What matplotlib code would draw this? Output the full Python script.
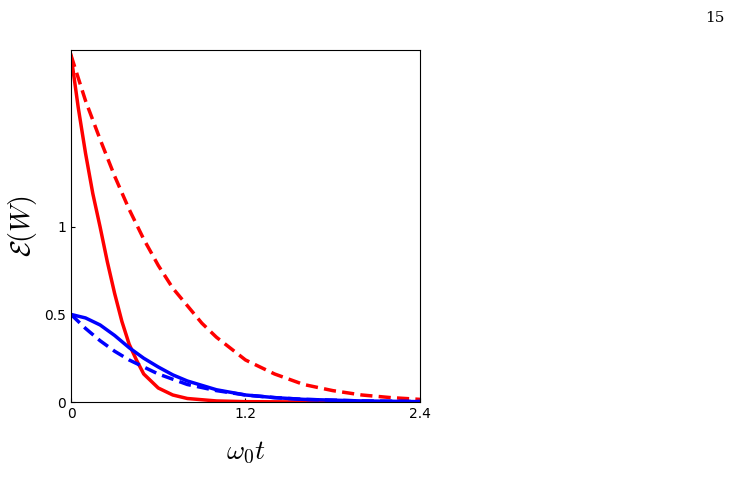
import matplotlib
matplotlib.use("Agg")
import matplotlib.pyplot as plt

plt.rcParams["mathtext.fontset"] = "cm"

t_red = [0, 0.05, 0.1, 0.15, 0.2, 0.25, 0.3, 0.35, 0.4, 0.45, 0.5, 0.6, 0.7, 0.8, 1.0, 1.2, 1.6, 2.0, 2.4]
red_solid = [1.98, 1.68, 1.42, 1.19, 1.0, 0.80, 0.62, 0.46, 0.33, 0.24, 0.16, 0.08, 0.04, 0.02, 0.006, 0.002, 0.0, 0.0, 0.0]
t_red_d = [0, 0.1, 0.2, 0.3, 0.4, 0.5, 0.6, 0.7, 0.8, 0.9, 1.0, 1.2, 1.4, 1.6, 1.8, 2.0, 2.2, 2.4]
red_dashed = [1.98, 1.72, 1.50, 1.29, 1.10, 0.93, 0.78, 0.65, 0.55, 0.45, 0.37, 0.24, 0.16, 0.10, 0.065, 0.04, 0.025, 0.015]
t_blue = [0, 0.1, 0.2, 0.3, 0.4, 0.5, 0.6, 0.7, 0.8, 1.0, 1.2, 1.4, 1.6, 2.0, 2.4]
blue_solid = [0.5, 0.48, 0.44, 0.38, 0.31, 0.25, 0.20, 0.155, 0.12, 0.07, 0.04, 0.025, 0.015, 0.006, 0.002]
blue_dashed = [0.5, 0.42, 0.35, 0.29, 0.24, 0.20, 0.16, 0.13, 0.10, 0.065, 0.04, 0.025, 0.015, 0.006, 0.003]

fig = plt.figure(figsize=(7.31, 4.98), dpi=100)
ax = fig.add_axes([71 / 731, 96 / 498, 349 / 731, 352 / 498])

ax.plot(t_red, red_solid, color="#ff0000", lw=2.5)
ax.plot(t_red_d, red_dashed, color="#ff0000", lw=2.5, ls=(0, (3.5, 1.8)))
ax.plot(t_blue, blue_solid, color="#0000ff", lw=2.5)
ax.plot(t_blue, blue_dashed, color="#0000ff", lw=2.5, ls=(0, (3.5, 1.8)))

ax.set_xlim(0, 2.4)
ax.set_ylim(0, 2.01)
ax.set_xticks([0, 1.2, 2.4])
ax.set_xticklabels(["0", "1.2", "2.4"])
ax.set_yticks([0, 0.5, 1])
ax.set_yticklabels(["0", "0.5", "1"])
ax.tick_params(direction="in", length=3, labelsize=10)
ax.set_xlabel(r"$\omega_0 t$", fontsize=20, labelpad=12)
ax.set_ylabel(r"$\mathcal{E}(W)$", fontsize=20, labelpad=4)

fig.text(715 / 731, 1 - 18 / 498, "15", fontsize=11, family="DejaVu Serif",
         ha="center", va="center")

fig.savefig("out.png", dpi=100)
